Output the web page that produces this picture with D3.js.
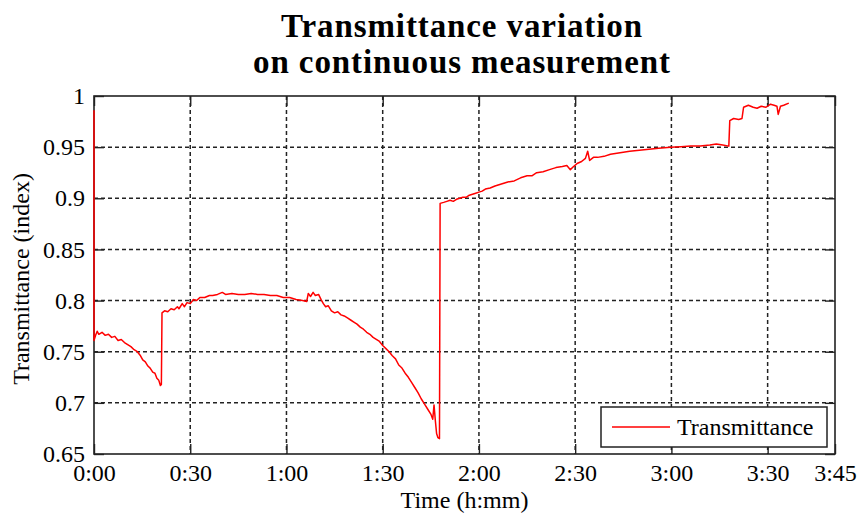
<!DOCTYPE html>
<html>
<head>
<meta charset="utf-8">
<script src="https://cdn.jsdelivr.net/npm/d3@7"></script>
<style>
  body { margin: 0; background: #fff; }
  text { font-family: "Liberation Serif", "Times New Roman", serif; fill: #000; }
</style>
</head>
<body>
<svg id="chart" width="860" height="513"></svg>
<script>
// time in minutes since start
var times = [0, 0, 0.5, 1.0, 1.5, 2.5, 3.5, 4.5, 5.5, 6.5, 7.5, 8.5, 9.5, 10.5, 11.5, 12.5, 13.5, 14.5, 15.2, 16, 16.8, 17.5, 18.3, 19, 19.6, 20.2, 20.7,
  21.0, 21.2, 22, 23, 24, 25, 26, 26.5, 27.5, 28.2, 29, 30, 31, 32, 33, 34.5, 36, 37, 38.5, 40, 41, 43, 45, 47, 49, 51, 53, 55, 57, 59, 61, 63, 65,
  66.3, 66.8, 67.5, 68.3, 69, 70, 70.8, 71.5, 72.2, 73, 74, 75, 76, 77, 78, 79, 80, 81, 82, 83, 84, 85, 86, 87, 88, 89, 90, 91, 92, 93, 94, 95,
  96, 97, 98, 99, 100, 101, 102, 103, 104, 105, 105.6, 106, 106.4, 106.8, 107.2, 107.7, 107.9, 109, 110, 111, 112, 113, 114, 115, 116, 117, 118,
  119, 120, 121, 122, 123.5, 125, 127, 129, 131, 133, 135, 136.5, 138, 140, 142, 144, 146, 147.4, 148.5, 149.5, 150.6, 152, 153.2, 153.9, 154.5,
  155.7, 157, 159, 161, 163, 165, 167, 170, 173, 176, 179.7, 183, 186, 189, 192, 194, 196, 197.9, 198.2, 199.4, 201, 202, 202.5, 204, 205.5,
  206.7, 208, 209.5, 210.9, 212, 212.9, 213.3, 214, 215, 216.6];
var transmittance = [0.986, 0.761, 0.766, 0.770, 0.767, 0.769, 0.766, 0.767, 0.764, 0.765, 0.761, 0.762, 0.759, 0.757, 0.755, 0.752, 0.750, 0.746, 0.742, 0.740, 0.736, 0.734, 0.730, 0.729, 0.724, 0.722, 0.717,
  0.718, 0.788, 0.790, 0.789, 0.792, 0.791, 0.794, 0.792, 0.797, 0.794, 0.798, 0.797, 0.801, 0.800, 0.803, 0.803, 0.805, 0.805, 0.806, 0.808, 0.806, 0.807, 0.806, 0.806, 0.807, 0.806, 0.806, 0.805, 0.805, 0.803, 0.803, 0.801, 0.800,
  0.799, 0.807, 0.804, 0.808, 0.805, 0.806, 0.801, 0.797, 0.794, 0.795, 0.790, 0.788, 0.789, 0.786, 0.785, 0.783, 0.781, 0.779, 0.777, 0.774, 0.772, 0.769, 0.767, 0.764, 0.762, 0.760, 0.756, 0.753, 0.750, 0.746, 0.743, 0.737,
  0.734, 0.729, 0.725, 0.720, 0.715, 0.710, 0.704, 0.699, 0.694, 0.689, 0.684, 0.698, 0.683, 0.670, 0.666, 0.665, 0.895, 0.896, 0.897, 0.898, 0.897, 0.899, 0.900, 0.901, 0.901, 0.903, 0.904,
  0.905, 0.906, 0.907, 0.909, 0.910, 0.912, 0.914, 0.916, 0.917, 0.920, 0.922, 0.922, 0.925, 0.926, 0.928, 0.930, 0.931, 0.932, 0.928, 0.931, 0.934, 0.936, 0.939, 0.946, 0.937,
  0.940, 0.940, 0.941, 0.943, 0.944, 0.945, 0.946, 0.947, 0.948, 0.949, 0.950, 0.9505, 0.951, 0.951, 0.952, 0.953, 0.952, 0.951, 0.976, 0.978, 0.977, 0.978, 0.989, 0.991, 0.989,
  0.988, 0.990, 0.989, 0.992, 0.991, 0.990, 0.982, 0.990, 0.991, 0.993];

var xTicks = [0, 30, 60, 90, 120, 150, 180, 210, 231];
var xTickLabels = ['0:00', '0:30', '1:00', '1:30', '2:00', '2:30', '3:00', '3:30', '3:45'];
var yTicks = [0.65, 0.7, 0.75, 0.8, 0.85, 0.9, 0.95, 1];
var yTickLabels = ['0.65', '0.7', '0.75', '0.8', '0.85', '0.9', '0.95', '1'];

var plotLeft = 94, plotRight = 835, plotTop = 96, plotBottom = 454;
var svg = d3.select('#chart');

var x = d3.scaleLinear().domain([0, 231]).range([plotLeft, plotRight]);
var y = d3.scaleLinear().domain([0.65, 1]).range([plotBottom, plotTop]);

// plot background
svg.append('rect')
    .attr('x', plotLeft).attr('y', plotTop)
    .attr('width', plotRight - plotLeft).attr('height', plotBottom - plotTop)
    .attr('fill', '#fff');

// dashed grid
var grid = svg.append('g').attr('stroke', '#222').attr('stroke-width', 1.5).attr('stroke-dasharray', '4,3');
grid.selectAll('.vg').data(xTicks.slice(1, -1)).enter().append('line')
    .attr('x1', function (d) { return x(d); }).attr('x2', function (d) { return x(d); })
    .attr('y1', plotTop).attr('y2', plotBottom);
grid.selectAll('.hg').data(yTicks.slice(1, -1)).enter().append('line')
    .attr('y1', function (d) { return y(d); }).attr('y2', function (d) { return y(d); })
    .attr('x1', plotLeft).attr('x2', plotRight);

function styleAxis(g) {
    g.select('.domain').remove();
    g.selectAll('.tick line').attr('stroke', '#222').attr('stroke-width', 1.4);
    g.selectAll('.tick text').style('font-size', '24px').attr('fill', '#000');
}

var xFmt = function (d, i) { return xTickLabels[i]; };
var yFmt = function (d, i) { return yTickLabels[i]; };

svg.append('g').attr('transform', 'translate(0,' + plotBottom + ')')
    .call(d3.axisBottom(x).tickValues(xTicks).tickFormat(xFmt).tickSizeInner(-10).tickPadding(10))
    .call(styleAxis);
svg.append('g').attr('transform', 'translate(0,' + plotTop + ')')
    .call(d3.axisTop(x).tickValues(xTicks).tickFormat('').tickSizeInner(-10))
    .call(styleAxis);
svg.append('g').attr('transform', 'translate(' + plotLeft + ',0)')
    .call(d3.axisLeft(y).tickValues(yTicks).tickFormat(yFmt).tickSizeInner(-10).tickPadding(9))
    .call(styleAxis);
svg.append('g').attr('transform', 'translate(' + plotRight + ',0)')
    .call(d3.axisRight(y).tickValues(yTicks).tickFormat('').tickSizeInner(-10))
    .call(styleAxis);

// box
svg.append('rect')
    .attr('x', plotLeft).attr('y', plotTop)
    .attr('width', plotRight - plotLeft).attr('height', plotBottom - plotTop)
    .attr('fill', 'none').attr('stroke', '#222').attr('stroke-width', 1.6);

// data line
var pts = times.map(function (t, i) { return [t, transmittance[i]]; });
svg.append('path')
    .datum(pts)
    .attr('fill', 'none')
    .attr('stroke', '#ff0000')
    .attr('stroke-width', 1.5)
    .attr('stroke-linejoin', 'round')
    .attr('d', d3.line().x(function (d) { return x(d[0]); }).y(function (d) { return y(d[1]); }));

// titles
svg.append('text').attr('x', 462).attr('y', 37).attr('text-anchor', 'middle')
    .style('font-size', '33px').style('font-weight', 'bold').style('letter-spacing', '0.9px')
    .text('Transmittance variation');
svg.append('text').attr('x', 462).attr('y', 73).attr('text-anchor', 'middle')
    .style('font-size', '33px').style('font-weight', 'bold').style('letter-spacing', '0.9px')
    .text('on continuous measurement');

svg.append('text').attr('x', (plotLeft + plotRight) / 2).attr('y', 508).attr('text-anchor', 'middle')
    .style('font-size', '24px').text('Time (h:mm)');
svg.append('text')
    .attr('transform', 'translate(29,' + ((plotTop + plotBottom) / 2 + 4) + ') rotate(-90)')
    .attr('text-anchor', 'middle')
    .style('font-size', '24px').text('Transmittance (index)');

// legend
var lg = svg.append('g');
lg.append('rect').attr('x', 601).attr('y', 407).attr('width', 226).attr('height', 40)
    .attr('fill', '#fff').attr('stroke', '#222').attr('stroke-width', 1.5);
lg.append('line').attr('x1', 612).attr('x2', 670).attr('y1', 427).attr('y2', 427)
    .attr('stroke', '#ff0000').attr('stroke-width', 1.5);
lg.append('text').attr('x', 677).attr('y', 435).style('font-size', '24px').text('Transmittance');
</script>
</body>
</html>
